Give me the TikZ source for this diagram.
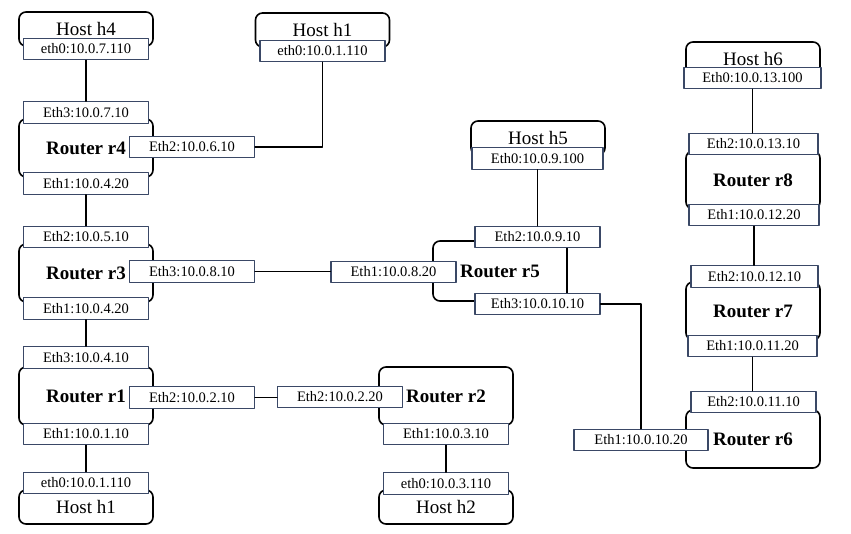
\documentclass[tikz,border=0pt]{standalone}
\usepackage{fontspec}
\setmainfont{Liberation Serif}
\definecolor{itfline}{RGB}{58,72,102}
\begin{document}
\begin{tikzpicture}[x=1pt, y=-1pt, line join=round, line cap=round,
	rtr/.style={draw, line width=1.6pt, rounded corners=7pt, minimum width=134pt, minimum height=58pt, font=\fontsize{19}{22}\selectfont\bfseries},
	hst/.style={draw, line width=1.6pt, rounded corners=7pt, minimum width=134pt, minimum height=34pt, font=\fontsize{19}{22}\selectfont},
	itf/.style={draw=itfline, fill=white, line width=1.1pt, minimum width=125pt, minimum height=21.5pt, inner sep=0pt, font=\fontsize{14.5}{16}\selectfont},
	lnk/.style={line width=1.4pt}]
			\useasboundingbox (0,0) rectangle (851,534);
			% routers
			\node[rtr] (r4) at (86,148) {Router r4};
			\node[rtr] (r3) at (86,273) {Router r3};
			\node[rtr] (r1) at (86,396) {Router r1};
			\node[rtr] (r2) at (446,396) {Router r2};
			\node[rtr, minimum height=60pt] (r5) at (500,271) {Router r5};
			\node[rtr] (r8) at (753,180) {Router r8};
			\node[rtr] (r7) at (753,311) {Router r7};
			\node[rtr] (r6) at (753,439) {Router r6};
			% hosts
			\node[hst] (h4) at (86,29) {Host h4};
			\node[hst] (h1t) at (322.5,30) {Host h1};
			\node[hst] (h1) at (86,507) {Host h1};
			\node[hst] (h2) at (446,507) {Host h2};
			\node[hst] (h5) at (538,138) {Host h5};
			\node[hst] (h6) at (753,59) {Host h6};
			% interfaces
			\node[itf] (h4e0) at (86,49) {eth0:10.0.7.110};
			\node[itf] (h1te0) at (322.5,51) {eth0:10.0.1.110};
			\node[itf] (r4e3) at (86,112.5) {Eth3:10.0.7.10};
			\node[itf] (r4e2) at (192,147) {Eth2:10.0.6.10};
			\node[itf] (r4e1) at (86,183.5) {Eth1:10.0.4.20};
			\node[itf] (r3e2) at (86,237) {Eth2:10.0.5.10};
			\node[itf] (r3e3) at (192,271.5) {Eth3:10.0.8.10};
			\node[itf] (r3e1) at (86,308.5) {Eth1:10.0.4.20};
			\node[itf] (r1e3) at (86,357.5) {Eth3:10.0.4.10};
			\node[itf] (r1e2) at (192,397.5) {Eth2:10.0.2.10};
			\node[itf] (r1e1) at (86,434) {Eth1:10.0.1.10};
			\node[itf] (h1e0) at (86,483) {eth0:10.0.1.110};
			\node[itf] (r2e2) at (340,397) {Eth2:10.0.2.20};
			\node[itf] (r2e1) at (446,434) {Eth1:10.0.3.10};
			\node[itf] (h2e0) at (446,483.5) {eth0:10.0.3.110};
			\node[itf, minimum width=131pt] (h5e0) at (537.5,158.5) {Eth0:10.0.9.100};
			\node[itf] (r5e2) at (537.5,237) {Eth2:10.0.9.10};
			\node[itf] (r5e1) at (393.5,272) {Eth1:10.0.8.20};
			\node[itf] (r5e3) at (537.5,304) {Eth3:10.0.10.10};
			\node[itf, minimum width=137pt] (h6e0) at (752.5,78) {Eth0:10.0.13.100};
			\node[itf, minimum width=129pt] (r8e2) at (753.5,144) {Eth2:10.0.13.10};
			\node[itf, minimum width=130pt] (r8e1) at (754,215) {Eth1:10.0.12.20};
			\node[itf, minimum width=127pt] (r7e2) at (754.5,276.5) {Eth2:10.0.12.10};
			\node[itf, minimum width=129pt] (r7e1) at (752.5,346) {Eth1:10.0.11.20};
			\node[itf] (r6e2) at (753.5,402) {Eth2:10.0.11.10};
			\node[itf, minimum width=134pt] (r6e1) at (641,440) {Eth1:10.0.10.20};
			% links
			\foreach \a/\b in {h4e0/r4e3, r4e1/r3e2, r3e1/r1e3, r1e1/h1e0, r2e1/h2e0, h5e0/r5e2, h6e0/r8e2, r8e1/r7e2, r7e1/r6e2}
				\draw[lnk] (\a.south) -- (\a.south |- \b.north);
			\draw[lnk] (r3e3.east) -- (r3e3.east -| r5e1.west);
			\draw[lnk] (r1e2.east) -- (r1e2.east -| r2e2.west);
			\draw[lnk] (h1te0.south) |- (r4e2.east);
			\draw[lnk] (r5e3.east) -| (r6e1.north);
\end{tikzpicture}
\end{document}
